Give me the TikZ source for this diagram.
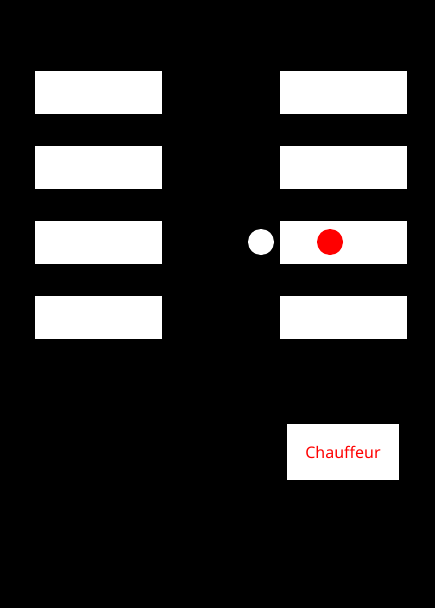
\documentclass[tikz,border=0pt]{standalone}
\usepackage{fontspec}
\setmainfont{Noto Sans}
\begin{document}
\begin{tikzpicture}[x=1pt,y=-1pt,
  slot/.style={fill=white,draw=none},
  dot/.style={circle,draw=none,minimum size=26pt,inner sep=0pt}]
\fill[black] (0,0) rectangle (435,608);
\useasboundingbox (0,0) rectangle (435,608);
\foreach \i/\y in {1/71,2/146,3/221,4/296}{
  \fill[slot] (35,\y) rectangle (162,\y+43);
  \fill[slot] (280,\y) rectangle (407,\y+43);
}
\node[dot,fill=white] (w) at (261,242) {};
\node[dot,fill=red] (r) at (330,242) {};
\node[fill=white,minimum width=112pt,minimum height=56pt,inner sep=0pt,
  text=red,font=\fontsize{16}{19}\selectfont] (c) at (343,452) {Chauffeur};
\end{tikzpicture}
\end{document}
